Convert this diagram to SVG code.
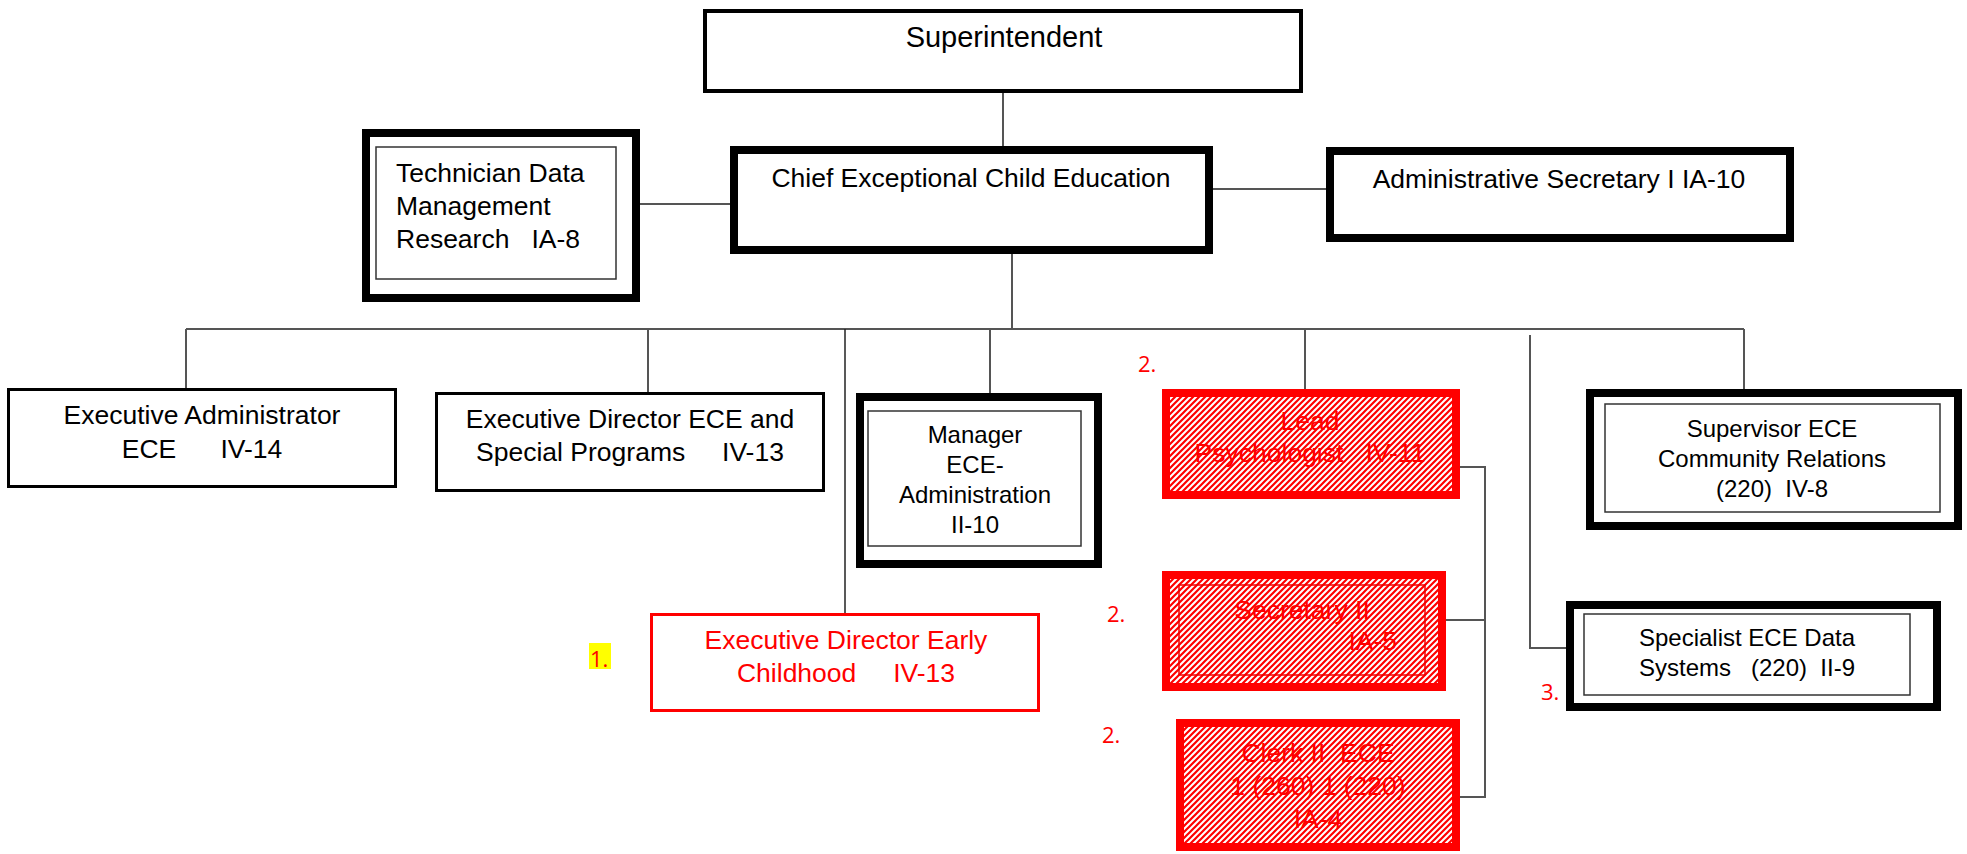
<svg xmlns="http://www.w3.org/2000/svg" width="1967" height="854" viewBox="0 0 1967 854">
<defs>
<pattern id="hatch" patternUnits="userSpaceOnUse" width="6" height="6">
<rect width="6" height="6" fill="#fff"/>
<path d="M-1,1 L1,-1 M0,6 L6,0 M5,7 L7,5" stroke="#f00" stroke-width="2.2"/>
</pattern>
</defs>
<style>
text{font-family:"Liberation Sans",Arial,sans-serif;font-size:26.5px;fill:#000}
.c{text-anchor:middle}
.e{text-anchor:end}
.s{font-size:24px}
.r{fill:#f00}
.num{font-family:"Open Sans","Liberation Sans",sans-serif;font-size:22px;fill:#f00}
.box{fill:#fff;stroke:#000;stroke-width:3}
.thick{fill:#fff;stroke:#000;stroke-width:8}
.inner{fill:none;stroke:#333;stroke-width:1.5}
.redbox{fill:#fff;stroke:#f00;stroke-width:3}
.hatch{fill:url(#hatch);stroke:#f00;stroke-width:8}
.rinner{fill:none;stroke:#e00;stroke-width:1.5}
.conn{fill:none;stroke:#555;stroke-width:2}
</style>
<rect width="1967" height="854" fill="#fff"/>
<g id="connectors">
<path class="conn" d="M1003,93 V146"/>
<path class="conn" d="M640,204 H730"/>
<path class="conn" d="M1213,189 H1326"/>
<path class="conn" d="M1012,254 V329"/>
<path class="conn" d="M186,329 H1744"/>
<path class="conn" d="M186,329 V388"/>
<path class="conn" d="M648,329 V392"/>
<path class="conn" d="M845,329 V613" style="stroke:#222;stroke-width:1.5"/>
<path class="conn" d="M990,329 V393"/>
<path class="conn" d="M1305,329 V389"/>
<path class="conn" d="M1744,329 V389"/>
<path class="conn" d="M1530,335 V648 H1566"/>
<path class="conn" d="M1460,467 H1485 V797 H1460"/>
<path class="conn" d="M1446,620 H1485"/>
</g>
<g id="superintendent">
<rect x="705" y="11" width="596" height="80" fill="#fff" stroke="#000" stroke-width="4"/>
<text class="c" x="1004" y="47" style="font-size:29px">Superintendent</text>
</g>
<g id="chief">
<rect class="thick" x="734" y="150" width="475" height="100"/>
<text class="c" x="971" y="187">Chief Exceptional Child Education</text>
</g>
<g id="technician">
<rect class="thick" x="366" y="133" width="270" height="165"/>
<rect class="inner" x="376" y="147" width="240" height="132"/>
<text x="396" y="182" xml:space="preserve">Technician Data</text>
<text x="396" y="215" xml:space="preserve">Management</text>
<text x="396" y="248" xml:space="preserve">Research   IA-8</text>
</g>
<g id="admin-secretary">
<rect class="thick" x="1330" y="151" width="460" height="87"/>
<text class="c" x="1559" y="188">Administrative Secretary I IA-10</text>
</g>
<g id="exec-admin">
<rect class="box" x="8.5" y="389.5" width="387" height="97"/>
<text class="c" x="202" y="424">Executive Administrator</text>
<text class="c" x="202" y="458" xml:space="preserve">ECE      IV-14</text>
</g>
<g id="exec-director-ece">
<rect class="box" x="436.5" y="393.5" width="387" height="97"/>
<text class="c" x="630" y="428">Executive Director ECE and</text>
<text class="c" x="630" y="461" xml:space="preserve">Special Programs     IV-13</text>
</g>
<g id="manager">
<rect class="thick" x="860" y="397" width="238" height="167"/>
<rect class="inner" x="868" y="411" width="213" height="135"/>
<text class="c s" x="975" y="443">Manager</text>
<text class="c s" x="975" y="473">ECE-</text>
<text class="c s" x="975" y="503">Administration</text>
<text class="c s" x="975" y="533">II-10</text>
</g>
<g id="exec-director-early">
<rect class="redbox" x="651.5" y="614.5" width="387" height="96"/>
<text class="c r" x="846" y="649">Executive Director Early</text>
<text class="c r" x="846" y="682" xml:space="preserve">Childhood     IV-13</text>
<rect x="589" y="643" width="22" height="26" fill="#ff0"/>
<text class="num" x="590" y="667">1.</text>
</g>
<g id="lead-psychologist">
<rect class="hatch" x="1166" y="393" width="290" height="102"/>
<text class="c r" x="1310" y="430">Lead</text>
<text class="c r" x="1310" y="462" xml:space="preserve">Psychologist   IV-11</text>
<text class="num" x="1138" y="372">2.</text>
</g>
<g id="secretary-ii">
<rect class="hatch" x="1166" y="575" width="276" height="112"/>
<rect class="rinner" x="1179" y="585" width="246" height="90"/>
<text class="c r" x="1302" y="619">Secretary II</text>
<text class="e r" x="1397" y="650">IA-5</text>
<text class="num" x="1107" y="622">2.</text>
</g>
<g id="clerk-ii">
<rect class="hatch" x="1180" y="723" width="276" height="124"/>
<text class="c r" x="1318" y="762" xml:space="preserve">Clerk II  ECE</text>
<text class="c r" x="1318" y="795">1 (260) 1 (220)</text>
<text class="c r" x="1318" y="828">IA-4</text>
<text class="num" x="1102" y="743">2.</text>
</g>
<g id="supervisor">
<rect class="thick" x="1590" y="393" width="368" height="133"/>
<rect class="inner" x="1605" y="404" width="335" height="108"/>
<text class="c s" x="1772" y="437">Supervisor ECE</text>
<text class="c s" x="1772" y="467">Community Relations</text>
<text class="c s" x="1772" y="497" xml:space="preserve">(220)  IV-8</text>
</g>
<g id="specialist">
<rect class="thick" x="1570" y="605" width="367" height="102"/>
<rect class="inner" x="1584" y="614" width="326" height="81"/>
<text class="c s" x="1747" y="646">Specialist ECE Data</text>
<text class="c s" x="1747" y="676" xml:space="preserve">Systems   (220)  II-9</text>
<text class="num" x="1541" y="700">3.</text>
</g>
</svg>
